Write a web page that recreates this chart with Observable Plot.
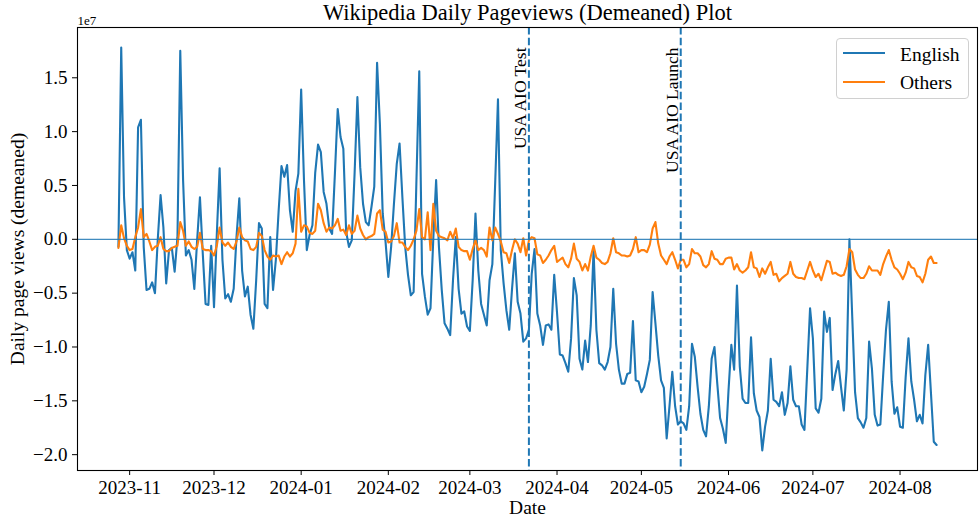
<!DOCTYPE html>
<html><head><meta charset="utf-8">
<script src="https://cdn.jsdelivr.net/npm/d3@7"></script>
<script src="https://cdn.jsdelivr.net/npm/@observablehq/plot@0.6"></script>
<style>
html,body{margin:0;padding:0;background:#fff;}
#chart{position:relative;width:980px;height:520px;font-family:"Liberation Serif","Times New Roman",serif;}
#chart svg{position:absolute;left:0;top:0;}
.legend{position:absolute;left:836px;top:38px;width:133px;height:61px;box-sizing:border-box;border:1px solid #d0d0d0;border-radius:4px;background:rgba(255,255,255,0.8);}
.legend .sw{position:absolute;left:6px;width:42px;height:2px;}
.legend .lb{position:absolute;left:63px;font-size:19.5px;line-height:1;white-space:nowrap;color:#000;}
</style></head><body><div id="chart"></div>
<script>
// ---- data (values in units of 1e7 page views, demeaned) ----
const startDate = "2023-10-28";
const english = [
-0.07, 1.78, 0.39, -0.10, -0.18, -0.12, -0.29, 1.04, 1.11, -0.07,
-0.47, -0.46, -0.40, -0.50, 0.00, 0.41, 0.11, -0.41, -0.10, -0.08,
-0.30, 0.02, 1.75, 0.55, -0.15, -0.10, -0.19, -0.46, -0.01, 0.39,
-0.13, -0.60, -0.61, -0.06, -0.63, 0.05, 0.66, -0.19, -0.55, -0.51,
-0.58, -0.46, 0.02, 0.38, -0.29, -0.53, -0.44, -0.70, -0.83, -0.38,
0.15, 0.10, -0.60, -0.64, 0.02, -0.47, -0.19, 0.27, 0.68, 0.58,
0.69, 0.27, 0.07, 0.45, 0.61, 1.39, 0.55, -0.10, 0.04, 0.13,
0.62, 0.88, 0.81, 0.44, 0.33, 0.10, 0.05, 0.61, 1.21, 0.95,
0.84, 0.07, -0.07, -0.01, 0.61, 1.32, 0.67, 0.33, 0.16, 0.13,
0.30, 0.49, 1.64, 1.07, 0.24, -0.02, -0.35, -0.07, 0.33, 0.70,
0.89, 0.39, -0.07, -0.33, -0.52, -0.49, 0.55, 1.56, -0.32, -0.53,
-0.70, -0.64, 0.01, 0.55, -0.07, -0.47, -0.78, -0.83, -0.89, -0.38,
0.02, -0.46, -0.69, -0.67, -0.81, -0.85, -0.38, 0.24, -0.29, -0.60,
-0.70, -0.80, -0.38, -0.23, 0.52, 1.30, -0.10, -0.41, -0.66, -0.84,
-0.46, -0.13, -0.58, -0.69, -0.95, -0.92, -0.84, -0.32, -0.09, -0.69,
-0.80, -0.98, -0.80, -0.79, -0.84, -0.33, -0.68, -1.07, -1.08, -1.15,
-1.23, -0.92, -0.36, -0.52, -1.11, -1.21, -0.94, -1.14, -0.80, -0.10,
-0.84, -1.15, -1.17, -1.21, -1.14, -1.00, -0.46, -0.97, -1.21, -1.34,
-1.34, -1.25, -1.24, -0.76, -1.31, -1.32, -1.42, -1.37, -1.25, -1.12,
-0.49, -0.78, -1.08, -1.31, -1.38, -1.85, -1.55, -1.23, -1.55, -1.72,
-1.69, -1.71, -1.77, -1.55, -0.97, -1.09, -1.37, -1.62, -1.77, -1.83,
-1.55, -1.11, -1.00, -1.34, -1.66, -1.76, -1.89, -1.40, -0.98, -1.21,
-0.43, -1.18, -1.48, -1.52, -1.52, -0.91, -1.43, -1.59, -1.65, -1.96,
-1.74, -1.59, -1.11, -1.49, -1.51, -1.55, -1.42, -1.63, -1.52, -1.18,
-1.49, -1.55, -1.55, -1.72, -1.77, -1.21, -0.64, -0.92, -1.57, -1.61,
-1.48, -0.67, -0.86, -0.73, -1.40, -1.25, -1.13, -1.37, -1.59, -1.21,
0.00, -0.72, -1.42, -1.66, -1.70, -1.75, -1.66, -0.95, -1.20, -1.63,
-1.73, -1.72, -1.26, -0.84, -0.58, -1.32, -1.62, -1.56, -1.74, -1.75,
-1.28, -0.92, -1.32, -1.49, -1.69, -1.63, -1.71, -1.26, -0.98, -1.43,
-1.88, -1.91
];
const others = [
-0.08, 0.13, 0.01, -0.06, -0.10, -0.09, 0.02, 0.11, 0.28, 0.02,
0.05, -0.02, -0.10, -0.07, -0.06, 0.02, -0.09, -0.11, -0.11, -0.08,
-0.07, -0.06, 0.16, 0.08, -0.06, -0.02, -0.07, -0.09, -0.07, 0.06,
-0.09, -0.10, -0.10, -0.11, -0.15, -0.06, 0.11, -0.03, -0.06, -0.03,
-0.07, -0.09, -0.02, 0.11, 0.02, -0.01, -0.02, -0.09, -0.10, -0.07,
0.06, 0.03, -0.10, -0.16, -0.19, -0.15, -0.16, -0.15, -0.23, -0.16,
-0.12, -0.16, -0.13, -0.04, 0.47, 0.07, 0.13, 0.12, 0.06, 0.05,
0.08, 0.33, 0.27, 0.15, 0.07, 0.11, 0.10, 0.13, 0.19, 0.08,
0.09, 0.04, 0.13, 0.05, 0.08, 0.22, 0.10, 0.04, 0.00, 0.02,
0.03, 0.05, 0.24, 0.27, 0.09, 0.07, -0.03, -0.02, 0.03, 0.15,
-0.03, -0.03, -0.07, -0.10, -0.06, 0.00, 0.08, 0.28, 0.02, 0.00,
0.25, -0.10, 0.33, 0.08, 0.03, 0.02, 0.01, -0.01, 0.07, 0.01,
0.10, -0.07, -0.10, -0.11, -0.11, -0.19, -0.09, -0.01, -0.10, -0.08,
-0.10, -0.16, 0.11, -0.01, 0.11, 0.05, -0.02, -0.12, -0.13, -0.22,
-0.10, 0.00, -0.04, -0.12, 0.01, -0.15, -0.01, 0.02, 0.01, -0.14,
-0.15, -0.22, -0.19, -0.15, -0.10, -0.06, -0.21, -0.19, -0.17, -0.23,
-0.26, -0.18, -0.04, -0.18, -0.21, -0.29, -0.23, -0.29, -0.16, -0.06,
-0.17, -0.19, -0.22, -0.23, -0.21, -0.13, 0.01, -0.12, -0.13, -0.15,
-0.15, -0.16, -0.15, -0.09, 0.02, -0.12, -0.10, -0.10, -0.12, -0.05,
0.10, 0.16, -0.04, -0.15, -0.19, -0.23, -0.16, -0.12, -0.19, -0.27,
-0.19, -0.19, -0.26, -0.23, -0.09, -0.13, -0.13, -0.16, -0.24, -0.26,
-0.23, -0.11, -0.18, -0.19, -0.23, -0.23, -0.18, -0.17, -0.17, -0.28,
-0.23, -0.29, -0.31, -0.29, -0.26, -0.12, -0.26, -0.27, -0.35, -0.27,
-0.32, -0.26, -0.21, -0.33, -0.32, -0.39, -0.36, -0.34, -0.32, -0.21,
-0.32, -0.35, -0.36, -0.36, -0.37, -0.29, -0.21, -0.29, -0.35, -0.32,
-0.38, -0.29, -0.20, -0.21, -0.32, -0.31, -0.33, -0.34, -0.33, -0.25,
-0.09, -0.12, -0.28, -0.33, -0.36, -0.36, -0.32, -0.25, -0.29, -0.29,
-0.29, -0.33, -0.23, -0.16, -0.10, -0.19, -0.26, -0.28, -0.32, -0.37,
-0.31, -0.21, -0.26, -0.27, -0.34, -0.35, -0.40, -0.32, -0.19, -0.16,
-0.22, -0.22
];
const seriesNames = ["English", "Others"];
const seriesColors = ["#1f77b4", "#ff7f0e"];
const eventDates = ["2024-03-22", "2024-05-15"];
const eventLabels = ["USA AIO Test", "USA AIO Launch"];
const yTicks = [-2.0, -1.5, -1.0, -0.5, 0.0, 0.5, 1.0, 1.5];
const titleText = "Wikipedia Daily Pageviews (Demeaned) Plot";
const xLabel = "Date";
const yLabel = "Daily page views (demeaned)";
const offsetText = "1e7";

// ---- build ----
const t0 = new Date(startDate + "T00:00:00Z");
const dates = english.map((_, i) => d3.utcDay.offset(t0, i));
const rows = [];
english.forEach((v, i) => rows.push({date: dates[i], value: v, series: seriesNames[0]}));
others.forEach((v, i) => rows.push({date: dates[i], value: v, series: seriesNames[1]}));
const [d0, d1] = d3.extent(dates);
const xpad = (d1 - d0) * 0.05;
const [v0, v1] = d3.extent(rows, d => d.value);
const ypad = (v1 - v0) * 0.05;
const events = eventDates.map((d, i) => ({date: new Date(d + "T00:00:00Z"), label: eventLabels[i]}));
const monthTicks = d3.utcMonth.range(d3.utcMonth.ceil(d0), d1);
const fmtY = d => (d < 0 ? "\u2212" : "") + Math.abs(d).toFixed(1);

const plot = Plot.plot({
  width: 980, height: 520,
  marginLeft: 77, marginRight: 3, marginTop: 27, marginBottom: 50,
  style: {fontFamily: '"Liberation Serif","Times New Roman",serif', fontSize: "19px", color: "#000", background: "transparent", overflow: "visible"},
  x: {type: "utc", domain: [new Date(+d0 - xpad), new Date(+d1 + xpad)]},
  y: {domain: [v0 - ypad, v1 + ypad]},
  color: {domain: seriesNames, range: seriesColors},
  marks: [
    Plot.lineY(rows, {x: "date", y: "value", stroke: "series", strokeWidth: 2.1, strokeLinejoin: "round"}),
    Plot.ruleY([0], {stroke: "#1f77b4", strokeWidth: 1.3, strokeOpacity: 0.85}),
    Plot.ruleX(events, {x: "date", stroke: "#1f77b4", strokeWidth: 2, strokeDasharray: "7.5,3.3"}),
    Plot.text(events, {x: "date", text: "label", frameAnchor: "top", rotate: -90, textAnchor: "end", lineAnchor: "bottom", dx: -3, dy: 20, fontSize: 17.5, fill: "#000"}),
    Plot.axisX({ticks: monthTicks, tickFormat: d3.utcFormat("%Y-%m"), tickSize: 5, tickPadding: 5, label: null, fontSize: 19}),
    Plot.axisY({ticks: yTicks, tickFormat: fmtY, tickSize: 5, tickPadding: 5, label: null, fontSize: 19}),
    Plot.frame({stroke: "#000", strokeWidth: 1.1}),
    Plot.text([titleText], {frameAnchor: "top", textAnchor: "middle", lineAnchor: "bottom", dy: -8, fontSize: 22.5, fill: "#000"}),
    Plot.text([offsetText], {frameAnchor: "top-left", textAnchor: "start", lineAnchor: "bottom", dy: -3, fontSize: 13, fill: "#000"}),
    Plot.text([xLabel], {frameAnchor: "bottom", textAnchor: "middle", lineAnchor: "bottom", dy: 43, fontSize: 19.5, fill: "#000"}),
    Plot.text([yLabel], {frameAnchor: "left", textAnchor: "middle", rotate: -90, lineAnchor: "middle", dx: -60, fontSize: 19.5, fill: "#000"})
  ]
});
const host = document.getElementById("chart");
host.appendChild(plot);

// legend (HTML overlay, like matplotlib's upper-right legend box)
const lg = document.createElement("div");
lg.className = "legend";
seriesNames.forEach((name, i) => {
  const sw = document.createElement("div");
  sw.className = "sw";
  sw.style.background = seriesColors[i];
  sw.style.top = (12.7 + i * 29) + "px";
  const lb = document.createElement("span");
  lb.className = "lb";
  lb.textContent = name;
  lb.style.top = (5.7 + i * 28.5) + "px";
  lg.appendChild(sw);
  lg.appendChild(lb);
});
host.appendChild(lg);
</script>
</body></html>
